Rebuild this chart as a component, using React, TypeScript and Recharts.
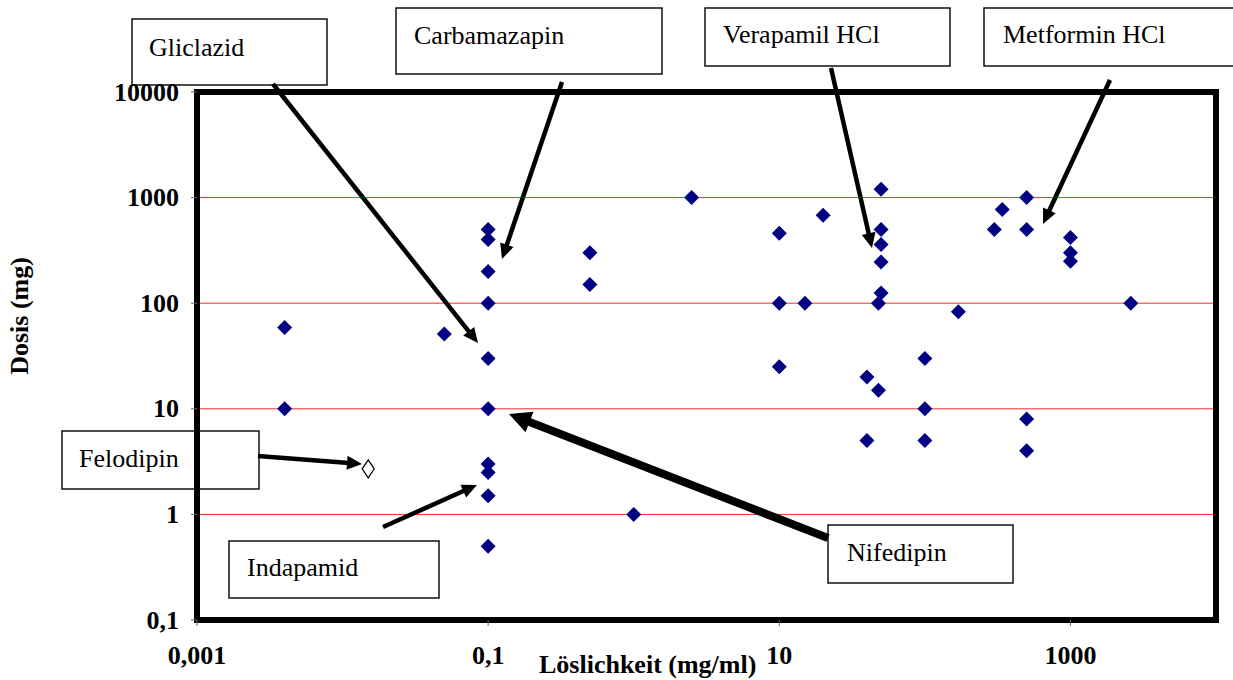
import React from 'react';
import { ScatterChart, Scatter, XAxis, YAxis, CartesianGrid, ReferenceArea } from 'recharts';

// Löslichkeit (mg/ml) und Dosis (mg) der Wirkstoffe
const solubility = [
  0.004, 0.004, 0.05,
  0.1, 0.1, 0.1, 0.1, 0.1, 0.1, 0.1, 0.1, 0.1, 0.1,
  0.5, 0.5, 1, 2.5,
  10, 10, 10, 15, 20, 40, 40, 48, 48,
  50, 50, 50, 50, 50,
  100, 100, 100, 170, 300, 340,
  500, 500, 500, 500,
  1000, 1000, 1000, 2600,
];
const dose = [
  59, 10, 51,
  500, 400, 200, 100, 30, 10, 3, 2.5, 1.5, 0.5,
  300, 150, 1, 1000,
  460, 100, 25, 100, 680, 20, 5, 15, 100,
  1200, 500, 360, 245, 125,
  30, 10, 5, 83, 500, 770,
  1000, 500, 8, 4,
  420, 300, 250, 100,
];
const felodipinSolubility = [0.015];
const felodipinDose = [2.7];

const xTicks = [0.001, 0.1, 10, 1000];
const xTickLabels = ['0,001', '0,1', '10', '1000'];
const yTicks = [0.1, 1, 10, 100, 1000, 10000];
const yTickLabels = ['0,1', '1', '10', '100', '1000', '10000'];

const calloutNames = ['Gliclazid', 'Carbamazapin', 'Verapamil HCl', 'Metformin HCl', 'Felodipin', 'Indapamid', 'Nifedipin'];

const points = solubility.map((x, i) => ({ x, y: dose[i] }));
const felodipin = felodipinSolubility.map((x, i) => ({ x, y: felodipinDose[i] }));

const serif = "'Liberation Serif', 'Times New Roman', serif";

// callout layout (page pixels)
const boxes = [
  { x: 132, y: 19, w: 195, h: 66, tx: 149, ty: 47 },
  { x: 396, y: 8, w: 266, h: 66, tx: 414, ty: 35 },
  { x: 705, y: 8, w: 245, h: 58, tx: 723, ty: 34 },
  { x: 984, y: 8, w: 260, h: 58, tx: 1003, ty: 34 },
  { x: 62, y: 431, w: 197, h: 58, tx: 79, ty: 458 },
  { x: 229, y: 541, w: 210, h: 57, tx: 247, ty: 567 },
  { x: 828, y: 525, w: 185, h: 58, tx: 847, ty: 552 },
];
const arrows = [
  { x1: 273, y1: 84, x2: 478, y2: 343, w: 4.5, L: 15, H: 7 },
  { x1: 562, y1: 82, x2: 502, y2: 259, w: 4.5, L: 15, H: 7 },
  { x1: 831, y1: 68, x2: 872, y2: 248, w: 4.5, L: 15, H: 7 },
  { x1: 1110, y1: 80, x2: 1043, y2: 224, w: 4.5, L: 15, H: 7 },
  { x1: 258, y1: 456, x2: 362, y2: 464, w: 4.5, L: 15, H: 7 },
  { x1: 383, y1: 527, x2: 477, y2: 485, w: 4.5, L: 15, H: 7 },
  { x1: 828, y1: 538, x2: 509, y2: 414, w: 8, L: 22, H: 11 },
];

const Diamond = (props: any) => {
  const { cx, cy } = props;
  const r = 7.5;
  return <polygon points={`${cx},${cy - r} ${cx + r},${cy} ${cx},${cy + r} ${cx - r},${cy}`} fill="#000080" />;
};

const HollowDiamond = (props: any) => {
  const { cx, cy } = props;
  return (
    <polygon
      points={`${cx},${cy - 9} ${cx + 6},${cy} ${cx},${cy + 9} ${cx - 6},${cy}`}
      fill="#fff"
      stroke="#000"
      strokeWidth={1.2}
    />
  );
};

const XTick = (props: any) => {
  const { x, y, payload } = props;
  const i = xTicks.indexOf(payload.value);
  return (
    <text x={x} y={y + 27} textAnchor="middle" dominantBaseline="central" fontFamily={serif} fontWeight="bold" fontSize={26} fill="#000">
      {xTickLabels[i]}
    </text>
  );
};

const YTick = (props: any) => {
  const { x, y, payload } = props;
  const i = yTicks.indexOf(payload.value);
  return (
    <text x={x - 10} y={y} textAnchor="end" dominantBaseline="central" fontFamily={serif} fontWeight="bold" fontSize={26} fill="#000">
      {yTickLabels[i]}
    </text>
  );
};

const Arrow = ({ x1, y1, x2, y2, w, L, H }: any) => {
  const dx = x2 - x1;
  const dy = y2 - y1;
  const len = Math.sqrt(dx * dx + dy * dy);
  const ux = dx / len;
  const uy = dy / len;
  const bx = x2 - ux * L;
  const by = y2 - uy * L;
  const nx = -uy;
  const ny = ux;
  return (
    <g>
      <line x1={x1} y1={y1} x2={bx + ux * 2} y2={by + uy * 2} stroke="#000" strokeWidth={w} />
      <polygon points={`${x2},${y2} ${bx + nx * H},${by + ny * H} ${bx - nx * H},${by - ny * H}`} fill="#000" />
    </g>
  );
};

export default function App() {
  return (
    <div style={{ position: 'absolute', left: 0, top: 0, width: 1233, height: 680, background: '#fff', overflow: 'hidden' }}>
      <ScatterChart width={1233} height={680} margin={{ top: 92, right: 17, bottom: 0, left: 0 }}>
        <CartesianGrid vertical={false} stroke="#ff2a2a" strokeWidth={1} />
        <XAxis
          dataKey="x"
          type="number"
          scale="log"
          domain={[0.001, 10000]}
          ticks={xTicks}
          allowDataOverflow
          height={60}
          axisLine={false}
          tickLine={{ stroke: '#666' }}
          tickSize={6}
          tick={<XTick />}
          interval={0}
        />
        <YAxis
          dataKey="y"
          type="number"
          scale="log"
          domain={[0.1, 10000]}
          ticks={yTicks}
          allowDataOverflow
          width={197}
          axisLine={false}
          tickLine={{ stroke: '#666' }}
          tickSize={6}
          tick={<YTick />}
          interval={0}
        />
        <ReferenceArea x1={0.001} x2={10000} y1={0.1} y2={10000} fill="none" stroke="#000" strokeWidth={6} ifOverflow="visible" />
        <Scatter data={points} shape={(p: any) => <Diamond {...p} />} isAnimationActive={false} />
        <Scatter data={felodipin} shape={(p: any) => <HollowDiamond {...p} />} isAnimationActive={false} />
      </ScatterChart>
      <svg width={1233} height={680} style={{ position: 'absolute', left: 0, top: 0, pointerEvents: 'none' }}>
        <text transform="translate(28,316) rotate(-90)" textAnchor="middle" fontFamily={serif} fontWeight="bold" fontSize={26} fill="#000">
          Dosis (mg)
        </text>
        <text x={539} y={673} fontFamily={serif} fontWeight="bold" fontSize={26} fill="#000">
          Löslichkeit (mg/ml)
        </text>
        {boxes.map((b, i) => (
          <g key={calloutNames[i]}>
            <rect x={b.x} y={b.y} width={b.w} height={b.h} fill="none" stroke="#000" strokeWidth={1.4} />
            <text x={b.tx} y={b.ty} dominantBaseline="central" fontFamily={serif} fontSize={26} fill="#000">
              {calloutNames[i]}
            </text>
          </g>
        ))}
        {arrows.map((a, i) => (
          <Arrow key={i} {...a} />
        ))}
      </svg>
    </div>
  );
}
